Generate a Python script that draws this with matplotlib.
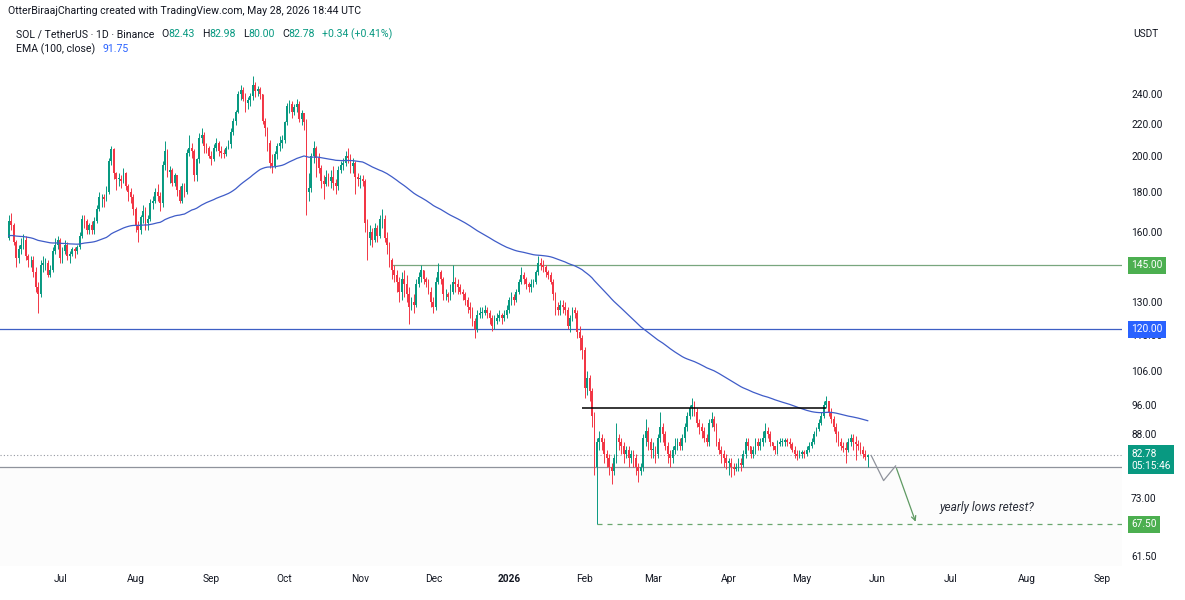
import numpy as np
import pandas as pd
import matplotlib
matplotlib.use("Agg")
import matplotlib.pyplot as plt
import matplotlib.dates as mdates
from matplotlib.transforms import blended_transform_factory

plt.rcParams['font.family'] = ['Roboto', 'DejaVu Sans']

# SOL/USDT daily candles, 2025-06-10 .. 2026-05-28 (one row per month)
first_open = 157
close = [165, 163, 155, 148, 152, 154, 156, 149, 147, 147, 142, 136, 133, 145, 146, 146, 141, 143, 151, 154, 156,
         148, 151, 154, 149, 150, 152, 151, 153, 158, 166, 165, 161, 163, 161, 165, 171, 177, 177, 176, 180, 197, 204, 190, 187, 187, 186, 190, 183, 180, 177, 171,
         163, 161, 167, 170, 164, 166, 174, 175, 180, 178, 174, 195, 203, 191, 192, 185, 189, 181, 175, 183, 180, 202, 205, 203, 189, 198, 211, 213, 206, 205, 200,
         198, 205, 208, 203, 202, 201, 205, 207, 215, 222, 228, 240, 243, 237, 234, 236, 239, 247, 242, 244, 240, 222, 217, 208, 196, 194, 201, 206, 208, 210,
         221, 232, 233, 228, 231, 233, 223, 227, 221, 180, 182, 200, 205, 199, 193, 186, 184, 188, 186, 188, 185, 183, 192, 195, 196, 200, 199, 194, 196, 188, 187,
         187, 186, 164, 157, 160, 156, 162, 158, 166, 166, 157, 154, 147, 143, 141, 138, 134, 139, 137, 133, 128, 130, 129, 137, 140, 143, 139, 138, 134, 130,
         128, 138, 142, 139, 133, 133, 132, 134, 138, 137, 136, 134, 133, 131, 128, 127, 123, 120, 125, 126, 126, 127, 126, 124, 121, 123, 124, 125, 124, 125, 127,
         131, 132, 131, 134, 138, 141, 139, 137, 136, 137, 138, 142, 146, 145, 144, 142, 141, 138, 133, 128, 127, 129, 128, 127, 121, 124, 127, 126, 119, 117, 113,
         101, 104, 100, 93, 80, 86, 87, 86, 83, 82, 80, 79, 82, 87, 86, 85, 83, 84, 82, 83, 82, 80, 79, 80, 87, 89, 86, 84,
         84, 83, 87, 90, 88, 85, 83, 82, 84, 85, 86, 85, 87, 90, 93, 95, 96, 94, 91, 90, 89, 87, 86, 91, 92, 90, 86, 84, 83, 82, 81,
         81, 80, 79.5, 80, 81, 80.5, 83, 86, 85, 83, 84, 86, 85, 86, 87, 89, 88, 86, 85, 84, 85.5, 86, 86, 86.5, 86, 85.5, 84, 83, 82.5, 83,
         83.5, 83, 84, 85, 86, 88, 89.5, 91, 93, 96, 97, 94, 92, 90, 88, 86, 85, 84.5, 84, 86, 87, 86, 85.5, 85, 84, 83, 82.43, 82.78]
high = [168, 169, 164, 156, 154, 157, 159, 158, 150, 149, 149, 144, 138, 147, 149, 148, 147, 145, 153, 157, 158,
        157, 153, 156, 155, 151, 153, 153, 154, 160, 168, 168, 166, 164, 165, 167, 173, 180, 179, 179, 183, 199, 206, 205, 191, 190, 189, 193, 191, 184, 182, 179,
        172, 165, 168, 173, 172, 168, 176, 178, 182, 184, 180, 197, 209, 204, 194, 193, 190, 189, 183, 185, 185, 204, 213, 208, 204, 199, 214, 217, 215, 208, 206,
        203, 207, 211, 209, 206, 204, 206, 210, 217, 224, 229, 242, 247, 245, 241, 238, 241, 253, 249, 246, 245, 240, 224, 218, 210, 201, 203, 208, 212, 213,
        222, 234, 236, 235, 233, 237, 235, 229, 227, 223, 190, 202, 209, 206, 202, 195, 189, 192, 190, 192, 194, 187, 194, 197, 199, 203, 205, 201, 199, 197, 190,
        189, 189, 187, 166, 163, 162, 164, 163, 168, 171, 168, 160, 155, 148, 145, 143, 140, 142, 143, 141, 136, 132, 133, 139, 142, 145, 143, 140, 139, 136,
        132, 140, 146, 143, 140, 135, 134, 137, 145, 140, 139, 137, 135, 134, 132, 130, 128, 124, 127, 128, 128, 129, 128, 127, 125, 125, 126, 127, 126, 127, 129,
        132, 134, 133, 135, 139, 144, 142, 140, 138, 139, 139, 143, 149, 148, 147, 145, 143, 142, 139, 134, 130, 131, 131, 130, 128, 125, 128, 128, 127, 121, 118,
        114, 106, 105, 101, 94, 87, 89, 88, 87, 84, 83, 81, 83, 91, 88, 87, 86, 85, 85, 84, 84, 83, 81, 81, 88, 92, 90, 87,
        86, 85, 88, 94, 91, 89, 86, 84, 85, 87, 87, 87, 88, 91, 94, 96, 98, 97, 95, 92, 91, 90, 88, 92, 94, 93, 91, 87, 85, 84, 83,
        82, 82, 81, 81, 82, 82, 84, 87, 87, 85, 85, 87, 87, 87, 89, 91, 90, 89, 86, 85, 86.5, 87, 87, 87, 87, 87, 86, 85, 84, 84,
        84, 84, 85, 86, 87, 89, 90, 92, 94, 97, 98.7, 97, 95, 93, 91, 89, 87, 86, 86, 87, 88, 88, 87.5, 86.5, 86, 85, 84, 82.98]
low = [156, 161, 154, 144, 146, 150, 152, 147, 144, 144, 140, 134, 126, 132, 142, 143, 140, 140, 142, 150, 152,
       146, 146, 150, 147, 146, 149, 148, 150, 152, 157, 162, 159, 159, 159, 159, 164, 170, 172, 172, 175, 179, 195, 187, 181, 183, 182, 185, 181, 175, 174, 168,
       160, 155, 159, 164, 161, 161, 165, 171, 174, 175, 170, 172, 192, 188, 185, 183, 183, 178, 174, 174, 177, 179, 200, 199, 186, 186, 196, 208, 202, 202, 199,
       195, 197, 203, 200, 199, 199, 200, 204, 205, 213, 219, 227, 236, 235, 228, 230, 232, 236, 238, 239, 237, 220, 212, 203, 193, 190, 193, 198, 203, 205,
       208, 219, 227, 224, 226, 228, 221, 219, 216, 168, 175, 180, 196, 188, 190, 182, 176, 183, 183, 182, 181, 179, 181, 190, 192, 194, 196, 190, 190, 179, 183,
       182, 183, 160, 147, 154, 153, 155, 155, 157, 162, 155, 150, 144, 139, 138, 134, 130, 131, 132, 130, 122, 127, 126, 128, 136, 138, 137, 136, 133, 128,
       126, 127, 137, 137, 131, 131, 130, 131, 133, 134, 133, 133, 131, 129, 126, 124, 121, 117, 119, 124, 124, 125, 124, 122, 119.5, 120, 122, 123, 122, 123, 124,
       126, 129, 129, 130, 133, 137, 137, 135, 134, 134, 136, 137, 141, 143, 142, 140, 139, 137, 131, 125, 125, 125, 126, 125, 120, 119, 123, 124, 117, 113, 110,
       98, 99, 97, 90, 78, 67.5, 84, 84, 81, 80, 78, 76, 78, 81, 84, 83, 81, 82, 80, 81, 80, 78, 76.5, 78, 79, 85, 84, 82,
       82, 81, 82, 86, 86, 84, 81, 80, 81, 83, 84, 84, 84, 86, 89, 92, 93, 93, 90, 88, 87, 86, 85, 85, 90, 89, 85, 83, 81, 80, 79.5,
       78, 77.6, 78, 79, 79, 79, 80, 82, 84, 82, 82, 83, 84, 84, 85, 86, 87, 85, 84, 83, 83, 85, 85, 85, 85, 84.5, 83.5, 82, 81.5, 82,
       82, 82, 82.5, 83.5, 84.5, 85.5, 87.5, 89, 90.5, 92.5, 95, 93, 91, 89, 86, 85, 84, 83.5, 81, 83.5, 85, 84, 81.5, 84, 83, 82, 81.5, 80]

ema_seed = 158  # EMA(100) at the first candle

# price scale
price_ticks = [61.5, 73, 88, 96, 106, 118, 130, 160, 180, 200, 220, 240]
month_ticks = ['2025-07-01', '2025-08-01', '2025-09-01', '2025-10-01', '2025-11-01', '2025-12-01', '2026-01-01',
               '2026-02-01', '2026-03-01', '2026-04-01', '2026-05-01', '2026-06-01', '2026-07-01', '2026-08-01', '2026-09-01']
month_labels = ['Jul', 'Aug', 'Sep', 'Oct', 'Nov', 'Dec', '2026', 'Feb', 'Mar', 'Apr', 'May', 'Jun', 'Jul', 'Aug', 'Sep']

# drawings
range_top, range_top_from = 145, '2025-11-14'
support_120 = 120
feb_ceiling, feb_ceiling_from, feb_ceiling_to = 95, '2026-01-31', '2026-05-11'
support_80 = 80
yearly_low, yearly_low_from = 67.5, '2026-02-06'
path_dates = ['2026-05-29 10:00', '2026-06-03 12:00', '2026-06-08 10:00']
path_prices = [82.7, 76.8, 80.2]
arrow_end = ('2026-06-17', 67.5)
note_pos = ('2026-07-16', 70.9)

UP, DOWN = '#089981', '#f23645'
DARK = '#131722'

dates = pd.date_range('2025-06-10', periods=len(close), freq='D')
assert dates[-1] == pd.Timestamp('2026-05-28')
c = np.array(close, float)
o = np.array([first_open] + close[:-1], float)
h = np.maximum(np.array(high, float), np.maximum(o, c))
l = np.minimum(np.array(low, float), np.minimum(o, c))

alpha = 2 / 101
ema = []
prev = ema_seed
for v in c:
    prev = prev + alpha * (v - prev)
    ema.append(prev)

W, H = 1185, 600
fig = plt.figure(figsize=(W / 100, H / 100), dpi=100)
pane_right, pane_top, pane_bottom = 1122, 22, 566
ax = fig.add_axes([0, 1 - pane_bottom / H, pane_right / W, (pane_bottom - pane_top) / H])
ax.set_yscale('log')

x = mdates.date2num(dates)
x0 = x[0]
ax.set_xlim(x0 - 3.6, x0 + 456.2)
ax.set_ylim(59.7, 297)

# very faint strip under the 80 line
ax.axhspan(40, support_80, color='#fcfcfc', zorder=0, lw=0)

cols = np.where(c >= o, UP, DOWN)
ax.vlines(x, l, h, colors=cols, lw=0.7, zorder=3)
body_lo = np.minimum(o, c)
body_h = np.maximum(np.abs(c - o), 0.25)
ax.bar(x, body_h, bottom=body_lo, width=0.72, color=cols, lw=0, zorder=4)

ax.plot(x, ema, color='#3f5cc8', lw=0.9, zorder=5)

# horizontal drawings
xmax = ax.get_xlim()[1]
ax.hlines(range_top, mdates.date2num(pd.Timestamp(range_top_from)), xmax, color='#78a67e', lw=0.9, zorder=2)
ax.axhline(support_120, color='#3d5fc4', lw=0.9, zorder=2)
ax.hlines(feb_ceiling, mdates.date2num(pd.Timestamp(feb_ceiling_from)), mdates.date2num(pd.Timestamp(feb_ceiling_to)),
          color='black', lw=1.1, zorder=6)
ax.axhline(support_80, color='#8f939c', lw=0.9, zorder=2)
ax.axhline(close[-1], color='#9598a1', lw=0.8, ls=(0, (1, 2)), zorder=2)
ax.hlines(yearly_low, mdates.date2num(pd.Timestamp(yearly_low_from)), xmax, color='#6aa86e', lw=0.9,
          ls=(0, (4, 4)), zorder=2)

# projected path
px = mdates.date2num(pd.to_datetime(path_dates))
ax.plot(px, path_prices, color='#8f939c', lw=0.9, zorder=6)
ax.annotate('', xy=(mdates.date2num(pd.Timestamp(arrow_end[0])), arrow_end[1]), xytext=(px[-1], path_prices[-1]),
            arrowprops=dict(arrowstyle='->', color='#5f9a63', lw=0.9, mutation_scale=8), zorder=6)
ax.text(mdates.date2num(pd.Timestamp(note_pos[0])), note_pos[1], 'yearly lows retest?', fontsize=8.6,
        style='italic', color='#2a2e39', ha='center', va='center')

for s in ax.spines.values():
    s.set_visible(False)

ax.yaxis.tick_right()
ax.set_yticks(price_ticks)
ax.set_yticklabels([f'{v:.2f}' for v in price_ticks])
ax.yaxis.set_minor_locator(matplotlib.ticker.NullLocator())
ax.tick_params(axis='y', length=0, pad=6.5, labelsize=7.3, labelcolor=DARK)

ax.set_xticks(mdates.date2num(pd.to_datetime(month_ticks)))
ax.set_xticklabels(month_labels)
ax.tick_params(axis='x', length=0, pad=6, labelsize=7.3, labelcolor=DARK)
for lab in ax.get_xticklabels():
    if lab.get_text() == '2026':
        lab.set_fontweight('bold')

# price tags on the scale
blend = blended_transform_factory(ax.transAxes, ax.transData)


def tag(price, text, fc, va='center', dy=0):
    ax.annotate(text, xy=(1, price), xycoords=blend, xytext=(6.5, dy), textcoords='offset points',
                ha='left', va=va, fontsize=7.3, color='white', linespacing=1.2,
                bbox=dict(boxstyle='square,pad=0.34', fc=fc, ec='none'), zorder=10, annotation_clip=False)


tag(range_top, f'{range_top:.2f}', '#4caf50')
tag(support_120, f'{support_120:.2f}', '#2962ff')
tag(close[-1], f'{close[-1]:.2f}\n05:15:46', '#089981', va='top', dy=4.5)
tag(yearly_low, f'{yearly_low:.2f}', '#4caf50')

# header
renderer = fig.canvas.get_renderer()


def write_row(pieces, x_px, y_px, size=7.6):
    for s, col, gap in pieces:
        t = fig.text(x_px / W, 1 - y_px / H, s, color=col, fontsize=size, ha='left', va='center')
        x_px = t.get_window_extent(renderer).x1 + gap


GREEN = '#089981'
write_row([('OtterBiraajCharting created with TradingView.com, May 28, 2026 18:44 UTC', DARK, 0)], 8, 11)
write_row([('SOL / TetherUS · 1D · Binance', DARK, 7), ('O', DARK, 0), ('82.43', GREEN, 7),
           ('H', DARK, 0), ('82.98', GREEN, 7), ('L', DARK, 0), ('80.00', GREEN, 7),
           ('C', DARK, 0), ('82.78', GREEN, 7), ('+0.34 (+0.41%)', GREEN, 0)], 16, 34)
write_row([('EMA (100, close)', DARK, 7), ('91.75', '#2962ff', 0)], 16, 49)
fig.text(1146 / W, 1 - 34 / H, 'USDT', fontsize=7.3, color=DARK, ha='center', va='center')

fig.savefig('out.png', dpi=100, facecolor='white')
